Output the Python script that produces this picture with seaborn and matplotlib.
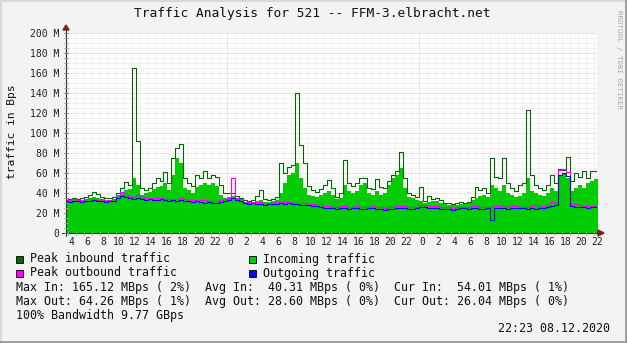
import numpy as np
import matplotlib
matplotlib.use('Agg')
import matplotlib.pyplot as plt
import matplotlib.transforms as mtransforms
from matplotlib.patches import Rectangle, Polygon
from matplotlib.lines import Line2D
import seaborn as sns

sns.set_style('white')
plt.rcParams['font.family'] = ['DejaVu Sans Mono', 'DejaVu Sans']

# ---------------- data (30-minute bins, hours since Dec 6 00:00) ----------------
bin_hours = 0.5
first_bin = 3.5

in_avg = [
    33, 32, 33, 32, 33, 33, 35, 36, 35, 34, 33, 33, 34,
    37, 40, 43, 44,
    55, 48, 38, 40, 41, 44, 46, 47,
    50, 43, 58, 75, 70, 45, 43, 40, 46, 48, 50, 48, 50, 47, 38, 35,
    36, 37, 35, 34,
    31, 30, 30, 32, 33, 31, 31, 32,
    33, 40, 50, 58, 60, 70, 55, 45,
    38, 37, 36, 38, 40, 42,
    38, 34, 35, 48, 42, 40, 42, 48, 50, 40, 38, 42, 38, 40, 48, 55, 58, 65, 45, 36,
    35, 33, 32, 30, 31, 32, 32, 30, 29, 28, 28, 28, 29,
    29, 30, 33, 35, 37, 38, 36, 48, 45, 42, 48, 40, 38, 36, 37, 40, 55, 42, 40, 38,
    37, 40, 45, 42,
    58, 60, 55,
    42, 45, 48, 45, 50, 52, 54]

in_peak = [
    35, 34, 35, 34, 35, 36, 38, 41, 39, 36, 35, 35, 36,
    40, 45, 51, 48,
    165, 92, 45, 43, 45, 50, 55, 52,
    61, 50, 75, 85, 89, 55, 50, 47, 58, 55, 62, 55, 58, 56, 48, 40,
    40, 40, 37, 35,
    33, 32, 33, 37, 43, 34, 33, 34,
    36, 70, 60, 66, 68, 140, 88, 70,
    47, 43, 41, 44, 48, 53,
    45, 36, 40, 73, 50, 47, 50, 55, 55, 45, 44, 54, 46, 45, 52, 58, 62, 81, 55, 40,
    38, 36, 46, 32, 37, 34, 35, 33, 30, 30, 29, 30, 31,
    30, 31, 36, 46, 43, 45, 40, 75, 56, 55, 75, 50, 45, 42, 48, 50, 123, 58, 48, 45,
    43, 48, 58, 50,
    64, 63, 76,
    52, 60, 56, 62, 55, 62, 62]

out_avg = [
    32, 31, 32, 32, 31, 32, 32, 33, 32, 32, 31, 32, 32,
    35, 37, 36, 35,
    34, 35, 34, 33, 34, 33, 33, 34,
    33, 32, 33, 32, 33, 32, 32, 31, 32, 31, 30, 31, 30, 30, 31, 32,
    33, 35, 33, 32,
    30, 29, 30, 29, 29, 28, 29, 29,
    29, 30, 29, 30, 29, 29, 28, 28,
    28, 27, 27, 26, 25, 25,
    25, 24, 25, 25, 24, 25, 25, 24, 24, 25, 25, 24, 24, 23, 24, 24, 25, 25, 25, 24,
    24, 25, 26, 26, 25, 25, 25, 24, 24, 24, 23, 24, 25,
    25, 24, 25, 25, 24, 24, 25, 13, 25, 25, 25, 24, 25, 25, 25, 25, 24, 25, 24, 25,
    25, 26, 27, 28,
    58, 60, 57,
    27, 26, 26, 26, 25, 26, 26]

out_peak = [
    33, 33, 34, 33, 33, 34, 34, 34, 33, 34, 33, 33, 34,
    38, 41, 38, 37,
    36, 38, 36, 35, 35, 35, 35, 35,
    34, 34, 34, 34, 35, 34, 33, 33, 33, 33, 33, 32, 32, 32, 33, 34,
    35, 55, 35, 34,
    31, 31, 31, 31, 31, 30, 30, 30,
    31, 31, 31, 31, 30, 30, 30, 30,
    29, 29, 28, 28, 27, 27,
    26, 26, 27, 27, 26, 26, 27, 26, 26, 26, 27, 26, 26, 25, 26, 26, 27, 27, 27, 26,
    26, 26, 28, 28, 27, 27, 27, 26, 26, 26, 25, 26, 26,
    26, 26, 27, 27, 26, 26, 26, 26, 27, 27, 28, 26, 27, 27, 26, 26, 26, 27, 28, 26,
    27, 28, 31, 30,
    63, 64, 61,
    29, 29, 28, 27, 27, 27, 27]

y_ticks = [0, 20, 40, 60, 80, 100, 120, 140, 160, 180, 200]
y_tick_labels = ['0', '20 M', '40 M', '60 M', '80 M', '100 M', '120 M', '140 M',
                 '160 M', '180 M', '200 M']
x_ticks = list(range(4, 71, 2))
x_tick_labels = [str(h % 24) for h in x_ticks]

title = 'Traffic Analysis for 521 -- FFM-3.elbracht.net'
legend_items = [('Peak inbound traffic', '#006600'), ('Incoming traffic', '#00CC00'),
                ('Peak outbound traffic', '#FF00FF'), ('Outgoing traffic', '#0000FF')]
stat_lines = [
    'Max In: 165.12 MBps ( 2%)  Avg In:  40.31 MBps ( 0%)  Cur In:  54.01 MBps ( 1%)',
    'Max Out: 64.26 MBps ( 1%)  Avg Out: 28.60 MBps ( 0%)  Cur Out: 26.04 MBps ( 0%)',
    '100% Bandwidth 9.77 GBps',
]
timestamp = '22:23 08.12.2020'

# ---------------- figure ----------------
W, H = 627, 343
fig = plt.figure(figsize=(W / 100, H / 100), dpi=100, facecolor='#F3F3F3')
ax = fig.add_axes([66 / W, (H - 233) / H, (597 - 66) / W, 200 / H])
ax.set_facecolor('white')
ax.set_xlim(3.774, 70.36)
ax.set_ylim(0, 200)

t = first_bin + bin_hours * np.arange(len(in_avg))
xe = np.append(t, t[-1] + bin_hours)


def ext(v):
    return np.append(np.asarray(v, float), v[-1])


# grid
minor_kw = dict(color='#E2E2E2', lw=0.6, ls=(0, (1.2, 1.2)), zorder=0.5)
major_kw = dict(color='#EBB8B8', lw=0.6, ls=(0, (1.2, 1.2)), zorder=0.6)
for yv in range(5, 201, 5):
    if yv % 20:
        ax.axhline(yv, **minor_kw)
for hv in range(4, 71):
    if hv % 24:
        ax.axvline(hv, **minor_kw)
for yv in range(20, 201, 20):
    ax.axhline(yv, **major_kw)
for hv in (24, 48):
    ax.axvline(hv, **major_kw)

# series
ax.fill_between(xe, 0, ext(in_avg), step='post', color='#00CC00', lw=0, zorder=2)
sns.lineplot(x=xe, y=ext(in_peak), drawstyle='steps-post', color='#006600',
             lw=0.8, ax=ax, zorder=3, legend=False)
sns.lineplot(x=xe, y=ext(out_peak), drawstyle='steps-post', color='#FF00FF',
             lw=0.8, ax=ax, zorder=4, legend=False)
sns.lineplot(x=xe, y=ext(out_avg), drawstyle='steps-post', color='#0000FF',
             lw=0.8, ax=ax, zorder=5, legend=False)

# axes / ticks
for s in ax.spines.values():
    s.set_visible(False)
ax.set_yticks(y_ticks)
ax.set_yticklabels(y_tick_labels)
ax.set_xticks(x_ticks)
ax.set_xticklabels(x_tick_labels)
ax.tick_params(axis='both', labelsize=7, length=0, colors='#202020')
ax.tick_params(axis='y', pad=5)
ax.tick_params(axis='x', pad=3)
off = mtransforms.ScaledTranslation(0.035, 0, fig.dpi_scale_trans)
for lab in ax.get_xticklabels():
    lab.set_transform(lab.get_transform() + off)
ax.set_xlabel('')
ax.set_ylabel('')


def fx(px):
    return px / W


def fy(py):
    return 1 - py / H


# axis lines and arrows (figure pixel coordinates)
fig.add_artist(Line2D([fx(66), fx(66)], [fy(236), fy(28)], color='#303030', lw=0.8))
fig.add_artist(Line2D([fx(62), fx(600)], [fy(233), fy(233)], color='#303030', lw=0.8))
fig.add_artist(Polygon([[fx(63), fy(30)], [fx(69), fy(30)], [fx(66), fy(25)]],
                       closed=True, color='#8B1A1A', transform=fig.transFigure))
fig.add_artist(Polygon([[fx(598), fy(230)], [fx(598), fy(236)], [fx(604), fy(233)]],
                       closed=True, color='#8B1A1A', transform=fig.transFigure))
# small axis ticks
for yv in range(0, 201, 5):
    py = 233 - yv
    col = '#B06060' if yv % 20 == 0 else '#A0A0A0'
    fig.add_artist(Line2D([fx(64), fx(68)], [fy(py), fy(py)], color=col, lw=0.6))
for hv in range(4, 71):
    px = 227.3 + (hv - 24) * 7.975
    col = '#B06060' if hv % 24 == 0 else '#A0A0A0'
    fig.add_artist(Line2D([fx(px), fx(px)], [fy(231), fy(235)], color=col, lw=0.6))

# texts
fig.text(fx(312.5), fy(13), title, ha='center', va='center', fontsize=9.3, color='#101010')
fig.text(fx(12), fy(132), 'traffic in Bps', rotation=90, ha='center', va='center',
         fontsize=8.1, color='#101010')
fig.text(fx(619), fy(60), 'RRDTOOL / TOBI OETIKER', rotation=270, ha='center',
         va='center', fontsize=5.3, color='#A8A8A8')

pos = [(16, 259), (249, 259), (16, 273), (249, 273)]
for (label, col), (bx, by) in zip(legend_items, pos):
    fig.add_artist(Rectangle((fx(bx), fy(by + 3.5)), 7 / W, 7 / H, transform=fig.transFigure,
                             facecolor=col, edgecolor='#000000', lw=0.6))
    fig.text(fx(bx + 14), fy(by), label, ha='left', va='center', fontsize=8.4, color='#101010')

for i, line in enumerate(stat_lines):
    fig.text(fx(16), fy(287 + 14 * i), line, ha='left', va='center', fontsize=8.4,
             color='#101010')
fig.text(fx(610), fy(329), timestamp, ha='right', va='center', fontsize=8.4, color='#101010')

# frame shading
fig.add_artist(Line2D([0, 1], [fy(0.5), fy(0.5)], color='#D8D8D8', lw=1.5))
fig.add_artist(Line2D([fx(0.5), fx(0.5)], [0, 1], color='#D8D8D8', lw=1.5))
fig.add_artist(Line2D([0, 1], [fy(342), fy(342)], color='#9A9A9A', lw=2.0))
fig.add_artist(Line2D([fx(626), fx(626)], [0, 1], color='#9A9A9A', lw=2.0))

fig.savefig('out.png', dpi=100, facecolor=fig.get_facecolor())
